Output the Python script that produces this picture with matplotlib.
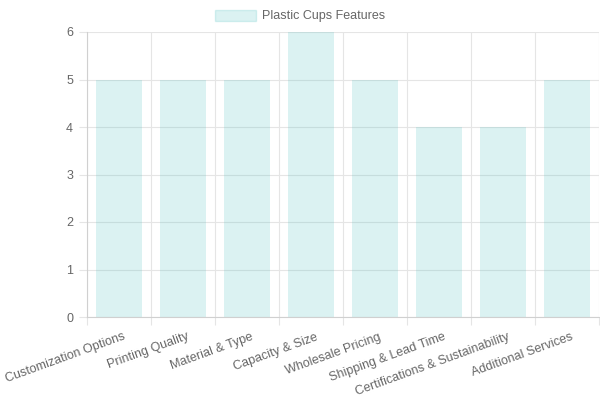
import matplotlib.pyplot as plt
import matplotlib.transforms as mtransforms
import numpy as np
from matplotlib.patches import Patch

categories = ["Customization Options", "Printing Quality", "Material & Type", "Capacity & Size",
              "Wholesale Pricing", "Shipping & Lead Time", "Certifications & Sustainability",
              "Additional Services"]
values = [5, 5, 5, 6, 5, 4, 4, 5]
series_name = "Plastic Cups Features"

plt.rcParams['font.family'] = ['Liberation Sans', 'DejaVu Sans']

bar_color = (75/255, 192/255, 192/255, 0.2)
grid_color = "#e5e5e5"
text_color = "#666666"

fig = plt.figure(figsize=(6, 4), dpi=100)
ax = fig.add_axes([0.145, 0.2075, 0.853, 0.7125])

x = np.arange(len(categories))
ax.bar(x, values, width=0.72, color=bar_color, edgecolor=bar_color, linewidth=0, zorder=2)

ax.set_xlim(-0.5, len(categories) - 0.5)
ax.set_ylim(0, 6)
ax.set_yticks(range(0, 7))

# grid lines sit between categories
ax.set_xticks(np.arange(len(categories) + 1) - 0.5)
ax.set_xticklabels([])
ax.set_xticks(x, minor=True)
ax.set_xticklabels(categories, minor=True, rotation=20, ha='right', rotation_mode='anchor',
                   fontsize=9, color=text_color)
ax.tick_params(axis='x', which='minor', length=0, pad=10)
ax.tick_params(axis='x', which='major', length=6, color=grid_color, width=0.8)
ax.tick_params(axis='y', length=6, color=grid_color, width=0.8, labelsize=9,
               labelcolor=text_color, pad=4)

shift = mtransforms.ScaledTranslation(4 / 100, 0, fig.dpi_scale_trans)
for lbl in ax.get_xticklabels(minor=True):
    lbl.set_transform(lbl.get_transform() + shift)

ax.grid(True, which='major', color=grid_color, linewidth=0.8, zorder=0)
ax.set_axisbelow(True)
for side in ['top', 'right']:
    ax.spines[side].set_visible(False)
for side in ['left', 'bottom']:
    ax.spines[side].set_color("#d0d0d0")
    ax.spines[side].set_linewidth(0.8)

fig.legend(handles=[Patch(facecolor=bar_color, edgecolor=bar_color, label=series_name)],
           loc='center', bbox_to_anchor=(0.5, 0.96), frameon=False, fontsize=9,
           handlelength=3.3, handleheight=1.0, labelcolor=text_color, handletextpad=0.5)

fig.savefig("out.png", dpi=100)
